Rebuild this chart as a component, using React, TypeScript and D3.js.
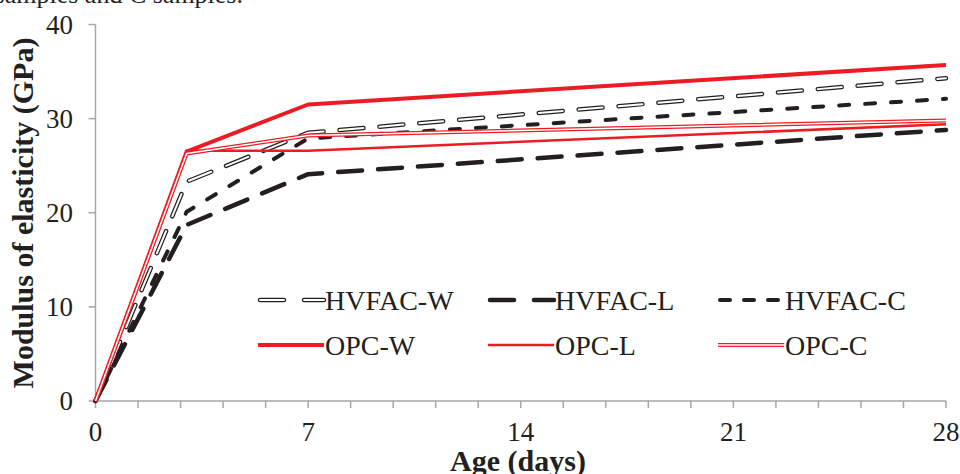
import React from "react";
import * as d3 from "d3";

const days = [0, 3, 7, 28];
const hvfacW = [0, 23.3, 28.5, 34.3];
const hvfacL = [0, 18.7, 24.1, 28.8];
const hvfacC = [0, 20.1, 27.9, 32.1];
const opcW = [0, 26.5, 31.5, 35.7];
const opcL = [0, 26.6, 26.6, 29.4];
const opcC = [0, 26.3, 28.2, 29.8];

const yTicks = [0, 10, 20, 30, 40];
const xLabels = [0, 7, 14, 21, 28];

const RED = "#ed1c24";
const BLACK = "#231f20";

type Style = {
  name: string;
  values: number[];
  color: string;
  width: number;
  dash?: string;
  inner?: number;
};

const series: Style[] = [
  { name: "HVFAC-W", values: hvfacW, color: BLACK, width: 4.5, dash: "24,16", inner: 2 },
  { name: "HVFAC-L", values: hvfacL, color: BLACK, width: 4.5, dash: "24,16" },
  { name: "HVFAC-C", values: hvfacC, color: BLACK, width: 4, dash: "10,16" },
  { name: "OPC-W", values: opcW, color: RED, width: 4 },
  { name: "OPC-L", values: opcL, color: RED, width: 2.5 },
  { name: "OPC-C", values: opcC, color: RED, width: 4, inner: 1.5 },
];

const W = 960;
const H = 474;
const x = d3.scaleLinear().domain([0, 28]).range([95.5, 946]);
const y = d3.scaleLinear().domain([0, 40]).range([401, 24.5]);
const minorTicks = d3.range(0, 28.001, 1.4);

const line = d3
  .line<number>()
  .x((_, i) => x(days[i]))
  .y((d) => y(d));

function Stroke({ s, d }: { s: Style; d: string }) {
  const cap = s.dash ? "round" : "butt";
  return (
    <g>
      <path d={d} fill="none" stroke={s.color} strokeWidth={s.width} strokeDasharray={s.dash} strokeLinecap={cap} strokeLinejoin="round" />
      {s.inner ? (
        <path d={d} fill="none" stroke="#fff" strokeWidth={s.inner} strokeDasharray={s.dash} strokeLinecap={cap} strokeLinejoin="round" />
      ) : null}
    </g>
  );
}

export default function App() {
  const font = "'Liberation Serif', 'Times New Roman', serif";
  const legCols = [258, 488, 718];
  const legRows = [300, 345];
  return (
    <svg width={W} height={H} style={{ position: "absolute", left: 0, top: 0, background: "#fff" }} fontFamily={font}>
      <text x={243} y={3} fontSize={26} textAnchor="end" fill="#231f20">samples and C samples.</text>

      {/* y axis */}
      <line x1={x(0)} x2={x(0)} y1={y(40)} y2={y(0)} stroke="#a6a6a6" strokeWidth={1.5} />
      {yTicks.map((t) => (
        <g key={t}>
          <line x1={x(0) - 7} x2={x(0)} y1={y(t)} y2={y(t)} stroke="#a6a6a6" strokeWidth={1.5} />
          <text x={73} y={y(t)} dy="0.35em" fontSize={27} textAnchor="end" fill="#231f20">{t}</text>
        </g>
      ))}

      {/* x axis */}
      <line x1={x(0)} x2={x(28)} y1={y(0)} y2={y(0)} stroke="#a6a6a6" strokeWidth={1.5} />
      {minorTicks.map((t, i) => (
        <line key={i} x1={x(t)} x2={x(t)} y1={y(0)} y2={y(0) + 7} stroke="#a6a6a6" strokeWidth={1.5} />
      ))}
      {xLabels.map((t) => (
        <text key={t} x={x(t)} y={432} dy="0.35em" fontSize={27} textAnchor="middle" fill="#231f20">{t}</text>
      ))}

      <text x={518} y={471} fontSize={30} fontWeight="bold" textAnchor="middle" fill="#231f20">Age (days)</text>
      <text transform={`translate(22,${213}) rotate(-90)`} dy="0.35em" fontSize={30} fontWeight="bold" textAnchor="middle" fill="#231f20">Modulus of elasticity (GPa)</text>

      {series.map((s) => (
        <Stroke key={s.name} s={s} d={line(s.values) || ""} />
      ))}

      {/* legend */}
      {series.map((s, i) => {
        const lx = legCols[i % 3];
        const ly = legRows[Math.floor(i / 3)];
        return (
          <g key={s.name}>
            <Stroke s={{ ...s, dash: s.dash ? (s.name === "HVFAC-C" ? "10,14" : "24,20") : undefined }} d={`M${lx + (s.dash ? 2 : 0)},${ly}H${lx + 66}`} />
            <text x={lx + 67} y={ly} dy="0.35em" fontSize={28} fill="#231f20">{s.name}</text>
          </g>
        );
      })}
    </svg>
  );
}
